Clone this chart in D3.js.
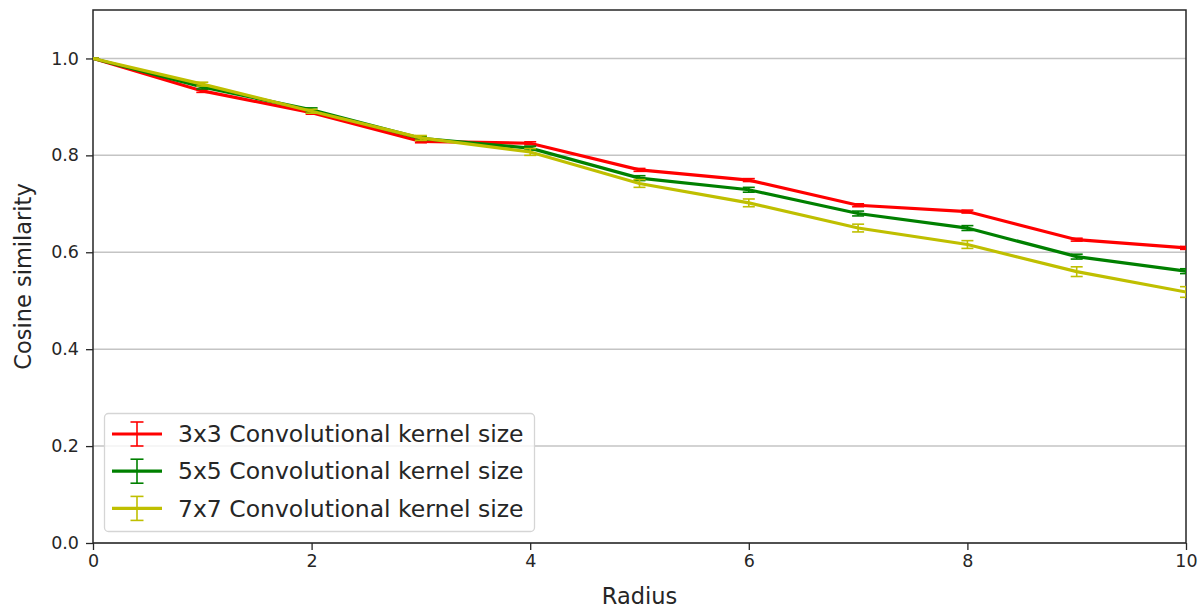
<!DOCTYPE html>
<html><head><meta charset="utf-8">
<script src="https://cdn.jsdelivr.net/npm/d3@7"></script>
<style>body{margin:0;background:#fff;}svg{display:block;font-family:"DejaVu Sans",sans-serif;}</style>
</head><body>
<svg id="c" width="1199" height="608"></svg>
<script>
const radius = [0,1,2,3,4,5,6,7,8,9,10];
const k3 = [1.0,0.933,0.888,0.829,0.825,0.770,0.749,0.697,0.684,0.626,0.609];
const k3err = [0,0.003,0.003,0.003,0.003,0.003,0.003,0.003,0.003,0.003,0.003];
const k5 = [1.0,0.941,0.894,0.835,0.815,0.753,0.729,0.680,0.650,0.591,0.561];
const k5err = [0,0.004,0.004,0.004,0.004,0.005,0.005,0.005,0.005,0.005,0.005];
const k7 = [1.0,0.947,0.891,0.836,0.807,0.742,0.702,0.650,0.616,0.560,0.518];
const k7err = [0,0.004,0.004,0.005,0.007,0.008,0.008,0.008,0.008,0.010,0.011];
const seriesNames = ["3x3 Convolutional kernel size","5x5 Convolutional kernel size","7x7 Convolutional kernel size"];
const seriesColors = ["#ff0000","#008000","#bfbf00"];
const yTicks = [0,0.2,0.4,0.6,0.8,1.0];
const xTicks = [0,2,4,6,8,10];

const series = [
  {name: seriesNames[0], color: seriesColors[0], v: k3, e: k3err},
  {name: seriesNames[1], color: seriesColors[1], v: k5, e: k5err},
  {name: seriesNames[2], color: seriesColors[2], v: k7, e: k7err}
];

const svg = d3.select("#c");
const L = 93, R = 1186, T = 10, B = 543;
const x = d3.scaleLinear().domain([0,10]).range([L,R]);
const y = d3.scaleLinear().domain([0,1.1]).range([B,T]);

// grid
svg.append("g").selectAll("line").data(yTicks).join("line")
  .attr("x1",L).attr("x2",R).attr("y1",d=>y(d)).attr("y2",d=>y(d))
  .attr("stroke","#c4c4c4").attr("stroke-width",1.5);

// axes
const xa = svg.append("g").attr("transform",`translate(0,${B})`)
  .call(d3.axisBottom(x).tickValues(xTicks).tickFormat(d3.format("d")).tickSizeOuter(0).tickSize(7).tickPadding(5));
const ya = svg.append("g").attr("transform",`translate(${L},0)`)
  .call(d3.axisLeft(y).tickValues(yTicks).tickFormat(d3.format(".1f")).tickSizeOuter(0).tickSize(7).tickPadding(7));
[xa,ya].forEach(a=>{
  a.select(".domain").remove();
  a.selectAll("text").attr("font-size",17.5).attr("fill","#262626").attr("font-family","DejaVu Sans");
  a.selectAll("line").attr("stroke","#262626").attr("stroke-width",1.3);
});

// frame
svg.append("rect").attr("x",L).attr("y",T).attr("width",R-L).attr("height",B-T)
  .attr("fill","none").attr("stroke","#262626").attr("stroke-width",1.5);

// lines
svg.append("clipPath").attr("id","pc").append("rect")
  .attr("x",L).attr("y",T).attr("width",R-L).attr("height",B-T);
const plot = svg.append("g").attr("clip-path","url(#pc)");
const line = d3.line().x((d,i)=>x(radius[i])).y(d=>y(d));
series.forEach(s=>{
  plot.append("path").attr("d",line(s.v)).attr("fill","none")
    .attr("stroke",s.color).attr("stroke-width",3.2).attr("stroke-linejoin","miter");
  const g = plot.append("g").attr("stroke",s.color).attr("stroke-width",1.6);
  s.v.forEach((v,i)=>{
    const cx = x(radius[i]);
    g.append("line").attr("x1",cx).attr("x2",cx).attr("y1",y(v-s.e[i])).attr("y2",y(v+s.e[i]));
    [v-s.e[i], v+s.e[i]].forEach(w=>{
      g.append("line").attr("x1",cx-6).attr("x2",cx+6).attr("y1",y(w)).attr("y2",y(w));
    });
  });
});

// axis labels
svg.append("text").attr("x",(L+R)/2).attr("y",604).attr("text-anchor","middle")
  .attr("font-size",22.5).attr("fill","#262626").text("Radius");
svg.append("text").attr("transform",`translate(31,${(T+B)/2}) rotate(-90)`).attr("text-anchor","middle")
  .attr("font-size",22.5).attr("fill","#262626").text("Cosine similarity");

// legend
const lg = svg.append("g");
lg.append("rect").attr("x",104.5).attr("y",413.5).attr("width",430).attr("height",118)
  .attr("rx",4).attr("fill","#fff").attr("fill-opacity",0.8).attr("stroke","#d5d5d5").attr("stroke-width",1.3);
series.forEach((s,i)=>{
  const cy = 434 + i*37.2;
  lg.append("line").attr("x1",112).attr("x2",162).attr("y1",cy).attr("y2",cy)
    .attr("stroke",s.color).attr("stroke-width",3.2);
  lg.append("line").attr("x1",137).attr("x2",137).attr("y1",cy-12).attr("y2",cy+12)
    .attr("stroke",s.color).attr("stroke-width",1.6);
  [cy-12,cy+12].forEach(yy=>lg.append("line").attr("x1",130.5).attr("x2",143.5).attr("y1",yy).attr("y2",yy)
    .attr("stroke",s.color).attr("stroke-width",1.6));
  lg.append("text").attr("x",178).attr("y",cy).attr("dy","0.35em").attr("font-size",23.5)
    .attr("fill","#262626").text(s.name);
});
</script>
</body></html>
